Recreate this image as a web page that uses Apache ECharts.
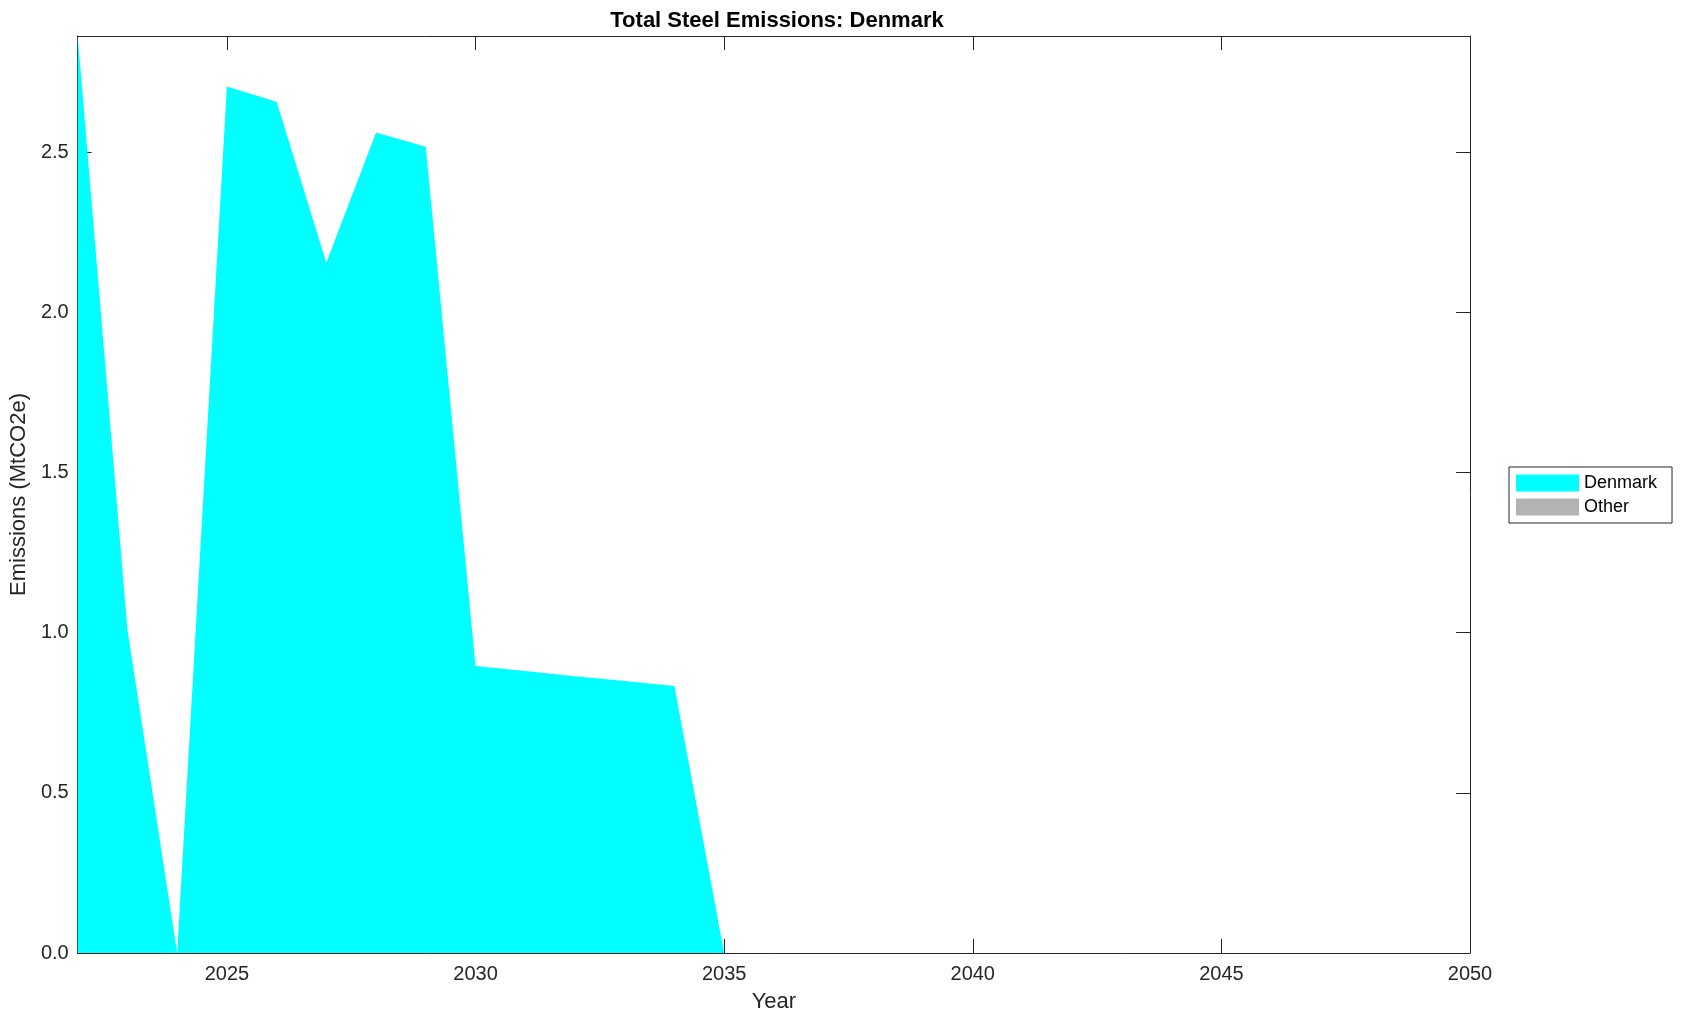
<!DOCTYPE html>
<html>
<head>
<meta charset="utf-8">
<script src="https://cdn.jsdelivr.net/npm/echarts@6/dist/echarts.min.js"></script>
<style>
html,body{margin:0;padding:0;background:#fff;}
#chart{width:1682px;height:1021px;}
</style>
</head>
<body>
<div id="chart"></div>
<script>
const years = [2022,2023,2024,2025,2026,2027,2028,2029,2030,2031,2032,2033,2034,2035,2036,2037,2038,2039,2040,2041,2042,2043,2044,2045,2046,2047,2048,2049,2050];
const denmark = [2.862,1.01,0,2.704,2.657,2.154,2.561,2.516,0.896,0.880,0.864,0.849,0.833,0,0,0,0,0,0,0,0,0,0,0,0,0,0,0,0];
const other = [0,0,0,0,0,0,0,0,0,0,0,0,0,0,0,0,0,0,0,0,0,0,0,0,0,0,0,0,0];
const xTicks = [2025,2030,2035,2040,2045,2050];
const yTicks = [0,0.5,1.0,1.5,2.0,2.5];
const seriesNames = ['Denmark','Other'];

const font = 'Liberation Sans, Arial, Helvetica, sans-serif';
const axisCol = '#262626';
const chart = echarts.init(document.getElementById('chart'), null, {renderer:'canvas'});

function xAxisCfg(pos, showLabels){
  return {
    type:'value', position:pos, min:years[0], max:years[years.length-1],
    axisLine:{show:true, onZero:false, lineStyle:{color:axisCol,width:1}},
    axisTick:{show:true, inside:true, length:14, customValues:xTicks, lineStyle:{color:axisCol,width:1}},
    axisLabel:{show:showLabels, customValues:xTicks, color:axisCol, fontSize:20, fontFamily:font, margin:11,
      formatter:v=>String(v)},
    splitLine:{show:false},
    name: showLabels ? 'Year' : '', nameLocation:'middle', nameGap:38,
    nameTextStyle:{color:axisCol, fontSize:22, fontFamily:font}
  };
}
function yAxisCfg(pos, showLabels){
  return {
    type:'value', position:pos, min:0, max:2.862,
    axisLine:{show:true, onZero:false, lineStyle:{color:axisCol,width:1}},
    axisTick:{show:true, inside:true, length:14, customValues:yTicks, lineStyle:{color:axisCol,width:1}},
    axisLabel:{show:showLabels, customValues:yTicks, color:axisCol, fontSize:20, fontFamily:font, margin:9,
      formatter:v=>v.toFixed(1)},
    splitLine:{show:false},
    name: showLabels ? 'Emissions (MtCO2e)' : '', nameLocation:'middle', nameGap:42, nameRotate:90,
    nameTextStyle:{color:axisCol, fontSize:22, fontFamily:font}
  };
}

chart.setOption({
  animation:false,
  backgroundColor:'#fff',
  title:{text:'Total Steel Emissions: Denmark', left:772, top:5, textAlign:'center',
    textStyle:{color:'#000', fontSize:22, fontWeight:'bold', fontFamily:font}},
  grid:{left:75, top:36, width:1395, height:917, containLabel:false},
  legend:{
    orient:'vertical', left:1509, top:467, data:seriesNames,
    itemWidth:63, itemHeight:17, itemGap:6, icon:'rect',
    padding:[7,15,7,7], borderColor:'#262626', borderWidth:1, backgroundColor:'#fff',
    textStyle:{color:'#000', fontSize:18, fontFamily:font}
  },
  xAxis:[xAxisCfg('bottom', true), xAxisCfg('top', false)],
  yAxis:[yAxisCfg('left', true), yAxisCfg('right', false)],
  series:[
    {name:seriesNames[0], type:'line', stack:'total', data:years.map((y,i)=>[y,denmark[i]]),
     showSymbol:false, lineStyle:{width:0}, itemStyle:{color:'#00FFFF'},
     areaStyle:{color:'#00FFFF', opacity:1}, z:2},
    {name:seriesNames[1], type:'line', stack:'total', data:years.map((y,i)=>[y,other[i]]),
     showSymbol:false, lineStyle:{width:0}, itemStyle:{color:'#B3B3B3'},
     areaStyle:{color:'#B3B3B3', opacity:1}, z:1}
  ]
});
</script>
</body>
</html>
